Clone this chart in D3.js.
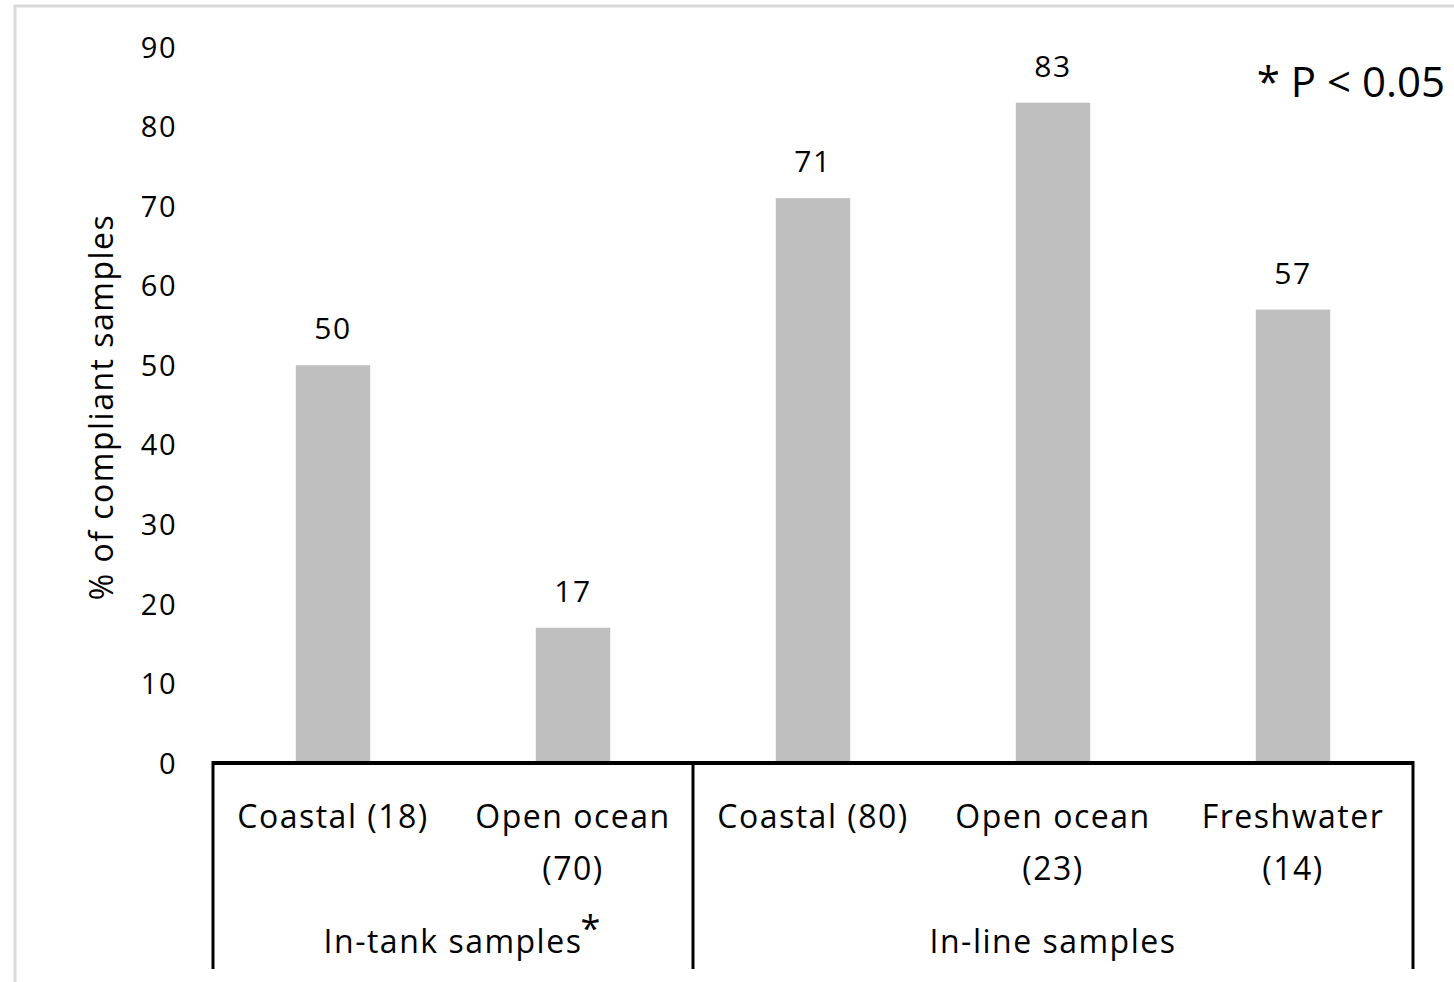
<!DOCTYPE html>
<html>
<head>
<meta charset="utf-8">
<script src="https://cdn.jsdelivr.net/npm/d3@7"></script>
<style>
  body { margin: 0; background: #fff; }
  text { font-family: "Open Sans", sans-serif; fill: #000; }
</style>
</head>
<body>
<div id="chart"></div>
<script>
// chart data
var categories = ["Coastal (18)", "Open ocean (70)", "Coastal (80)", "Open ocean (23)", "Freshwater (14)"];
var labelLines = [["Coastal (18)"], ["Open ocean", "(70)"], ["Coastal (80)"], ["Open ocean", "(23)"], ["Freshwater", "(14)"]];
var values = [50, 17, 71, 83, 57];
var groupNames = ["In-tank samples", "In-line samples"];
var groupSizes = [2, 3];
var yTicks = [0, 10, 20, 30, 40, 50, 60, 70, 80, 90];

var svgWidth = 1454;
var svgHeight = 982;

var margin = { top: 47, right: 41, bottom: 219, left: 213 };
var width = svgWidth - margin.left - margin.right;
var height = svgHeight - margin.top - margin.bottom;

var svg = d3.select("#chart")
  .append("svg")
  .attr("width", svgWidth)
  .attr("height", svgHeight);

// light frame around the chart
svg.append("rect")
  .attr("x", 15)
  .attr("y", 6)
  .attr("width", svgWidth + 20)
  .attr("height", svgHeight + 20)
  .attr("fill", "none")
  .attr("stroke", "#d9d9d9")
  .attr("stroke-width", 3);

var chartGroup = svg.append("g")
  .attr("transform", `translate(${margin.left}, ${margin.top})`);

var xScale = d3.scaleBand()
  .domain(categories)
  .range([0, width])
  .paddingInner(0.69)
  .paddingOuter(0.345);

var yScale = d3.scaleLinear()
  .domain([0, 90])
  .range([height, 0]);

// y axis: labels only
var leftAxis = d3.axisLeft(yScale).tickValues(yTicks).tickSize(0).tickPadding(36);
var yAxis = chartGroup.append("g").call(leftAxis);
yAxis.select(".domain").remove();
yAxis.selectAll("text")
  .style("font-size", "29px")
  .style("letter-spacing", "1.5px")
  .attr("dy", "0.35em");

// bars
chartGroup.selectAll("rect.bar")
  .data(values)
  .enter()
  .append("rect")
  .attr("class", "bar")
  .attr("x", (d, i) => xScale(categories[i]))
  .attr("y", d => yScale(d))
  .attr("width", xScale.bandwidth())
  .attr("height", d => height - yScale(d))
  .attr("fill", "#bfbfbf");

// value labels
chartGroup.selectAll("text.val")
  .data(values)
  .enter()
  .append("text")
  .attr("class", "val")
  .attr("x", (d, i) => xScale(categories[i]) + xScale.bandwidth() / 2)
  .attr("y", d => yScale(d) - 26)
  .attr("text-anchor", "middle")
  .style("font-size", "30px")
  .style("letter-spacing", "1.5px")
  .text(d => d);

// x axis line
var step = xScale.step();
chartGroup.append("line")
  .attr("x1", 0).attr("x2", width)
  .attr("y1", height).attr("y2", height)
  .attr("stroke", "#000").attr("stroke-width", 4);

// group dividers
var cum = [0];
groupSizes.forEach(function(n, i) { cum.push(cum[i] + n); });
cum.forEach(function(c) {
  chartGroup.append("line")
    .attr("x1", c * step).attr("x2", c * step)
    .attr("y1", height - 2).attr("y2", height + 206)
    .attr("stroke", "#000").attr("stroke-width", 3);
});

// category labels
labelLines.forEach(function(lines, i) {
  var cx = xScale(categories[i]) + xScale.bandwidth() / 2;
  lines.forEach(function(line, j) {
    chartGroup.append("text")
      .attr("x", cx)
      .attr("y", height + 65 + j * 52)
      .attr("text-anchor", "middle")
      .style("font-size", "32px")
      .style("letter-spacing", "1.5px")
      .text(line);
  });
});

// group labels (asterisk marks the significant group)
groupNames.forEach(function(name, i) {
  var cx = (cum[i] + cum[i + 1]) / 2 * step;
  var t = chartGroup.append("text")
    .attr("x", cx)
    .attr("y", height + 190)
    .attr("text-anchor", "middle")
    .style("font-size", "32px")
    .style("letter-spacing", "1.5px")
    .text(name);
  if (i === 0) {
    var len = t.node().getComputedTextLength();
    chartGroup.append("text")
      .attr("x", cx + len / 2 - 2)
      .attr("y", height + 178)
      .style("font-size", "36px")
      .text("*");
  }
});

// y axis title
chartGroup.append("text")
  .attr("transform", "rotate(-90)")
  .attr("x", -360)
  .attr("y", -100)
  .attr("text-anchor", "middle")
  .style("font-size", "32px")
  .style("letter-spacing", "1.5px")
  .text("% of compliant samples");

// significance note
svg.append("text")
  .attr("x", 1445)
  .attr("y", 97)
  .attr("text-anchor", "end")
  .style("font-size", "42px")
  .text("* P < 0.05");
</script>
</body>
</html>
